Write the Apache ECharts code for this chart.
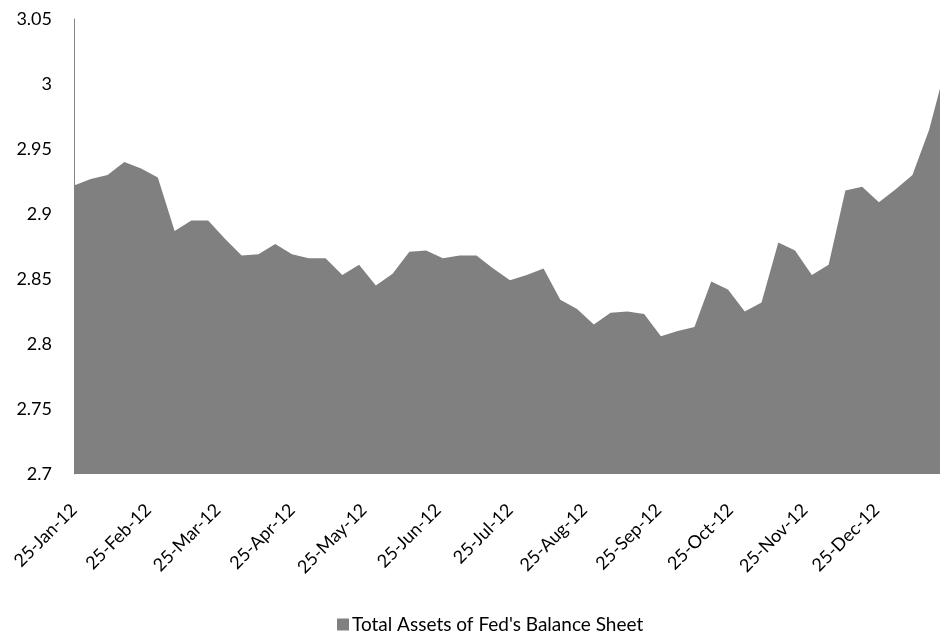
<!DOCTYPE html>
<html>
<head>
<meta charset="utf-8">
<script src="https://cdn.jsdelivr.net/npm/echarts@6/dist/echarts.min.js"></script>
<style>
html,body{margin:0;padding:0;background:#fff;}
#chart{width:940px;height:631px;}
</style>
</head>
<body>
<div id="chart"></div>
<script>
// Weekly observation dates
var dates = [
  '2012-01-25','2012-02-01','2012-02-08','2012-02-15','2012-02-22','2012-02-29',
  '2012-03-07','2012-03-14','2012-03-21','2012-03-28',
  '2012-04-04','2012-04-11','2012-04-18','2012-04-25',
  '2012-05-02','2012-05-09','2012-05-16','2012-05-23','2012-05-30',
  '2012-06-06','2012-06-13','2012-06-20','2012-06-27',
  '2012-07-04','2012-07-11','2012-07-18','2012-07-25',
  '2012-08-01','2012-08-08','2012-08-15','2012-08-22','2012-08-29',
  '2012-09-05','2012-09-12','2012-09-19','2012-09-26',
  '2012-10-03','2012-10-10','2012-10-17','2012-10-24','2012-10-31',
  '2012-11-07','2012-11-14','2012-11-21','2012-11-28',
  '2012-12-05','2012-12-12','2012-12-19','2012-12-26',
  '2013-01-02','2013-01-09','2013-01-16','2013-01-23'
];
// Total assets (trillions)
var totalAssets = [
  2.922, 2.927, 2.930, 2.940, 2.935, 2.928,
  2.887, 2.895, 2.895, 2.881,
  2.868, 2.869, 2.877, 2.869,
  2.866, 2.866, 2.853, 2.861, 2.845,
  2.854, 2.871, 2.872, 2.866,
  2.868, 2.868, 2.858, 2.849,
  2.853, 2.858, 2.834, 2.827, 2.815,
  2.824, 2.825, 2.823, 2.806,
  2.810, 2.813, 2.848, 2.842, 2.825,
  2.832, 2.878, 2.872, 2.853,
  2.861, 2.918, 2.921, 2.909,
  2.919, 2.930, 2.965, 3.014
];
// X tick label dates and texts
var tickDates = [
  '2012-01-25','2012-02-25','2012-03-25','2012-04-25','2012-05-25','2012-06-25',
  '2012-07-25','2012-08-25','2012-09-25','2012-10-25','2012-11-25','2012-12-25'
];
var tickLabels = [
  '25-Jan-12','25-Feb-12','25-Mar-12','25-Apr-12','25-May-12','25-Jun-12',
  '25-Jul-12','25-Aug-12','25-Sep-12','25-Oct-12','25-Nov-12','25-Dec-12'
];
var seriesName = "Total Assets of Fed's Balance Sheet";

function ts(s){ var p = s.split('-'); return Date.UTC(+p[0], +p[1]-1, +p[2]); }
var tickTimes = tickDates.map(ts);
var dataPts = dates.map(function(d, i){ return [ts(d), totalAssets[i]]; });
var xMin = ts(dates[0]);
var xMax = xMin + 361.5 * 86400000; // visible window (image is cut at right)

var FONT = 'Lato';
var chart = echarts.init(document.getElementById('chart'), null, {renderer:'canvas'});
chart.setOption({
  animation: false,
  backgroundColor: '#ffffff',
  grid: {left: 74, right: 0, top: 19, bottom: 157, containLabel: false},
  legend: {
    show: true,
    left: 332,
    top: 610,
    itemWidth: 12, itemHeight: 12, itemGap: 6,
    icon: 'rect',
    textStyle: {fontFamily: FONT, fontSize: 19, color: '#000', padding: [0,0,0,-2]},
    data: [seriesName]
  },
  xAxis: {
    type: 'value',
    min: xMin,
    max: xMax,
    axisLine: {show: false},
    axisTick: {show: false},
    splitLine: {show: false},
    axisLabel: {
      customValues: tickTimes,
      rotate: 45,
      margin: 33,
      fontFamily: FONT,
      fontSize: 18,
      color: '#000',
      formatter: function(v){
        var i = tickTimes.indexOf(v);
        return i >= 0 ? tickLabels[i] : '';
      }
    }
  },
  yAxis: {
    type: 'value',
    min: 2.7,
    max: 3.05,
    interval: 0.05,
    axisLine: {show: true, lineStyle: {color: '#868686', width: 1}},
    axisTick: {show: false},
    splitLine: {show: false},
    axisLabel: {
      margin: 22,
      fontFamily: FONT,
      fontSize: 18,
      color: '#000',
      formatter: function(v){ return String(parseFloat(v.toFixed(2))); }
    }
  },
  series: [{
    name: seriesName,
    type: 'line',
    data: dataPts,
    symbol: 'none',
    clip: true,
    lineStyle: {width: 0, color: '#808080'},
    itemStyle: {color: '#808080'},
    areaStyle: {color: '#808080', opacity: 1, origin: 'start'}
  }]
});
</script>
</body>
</html>
